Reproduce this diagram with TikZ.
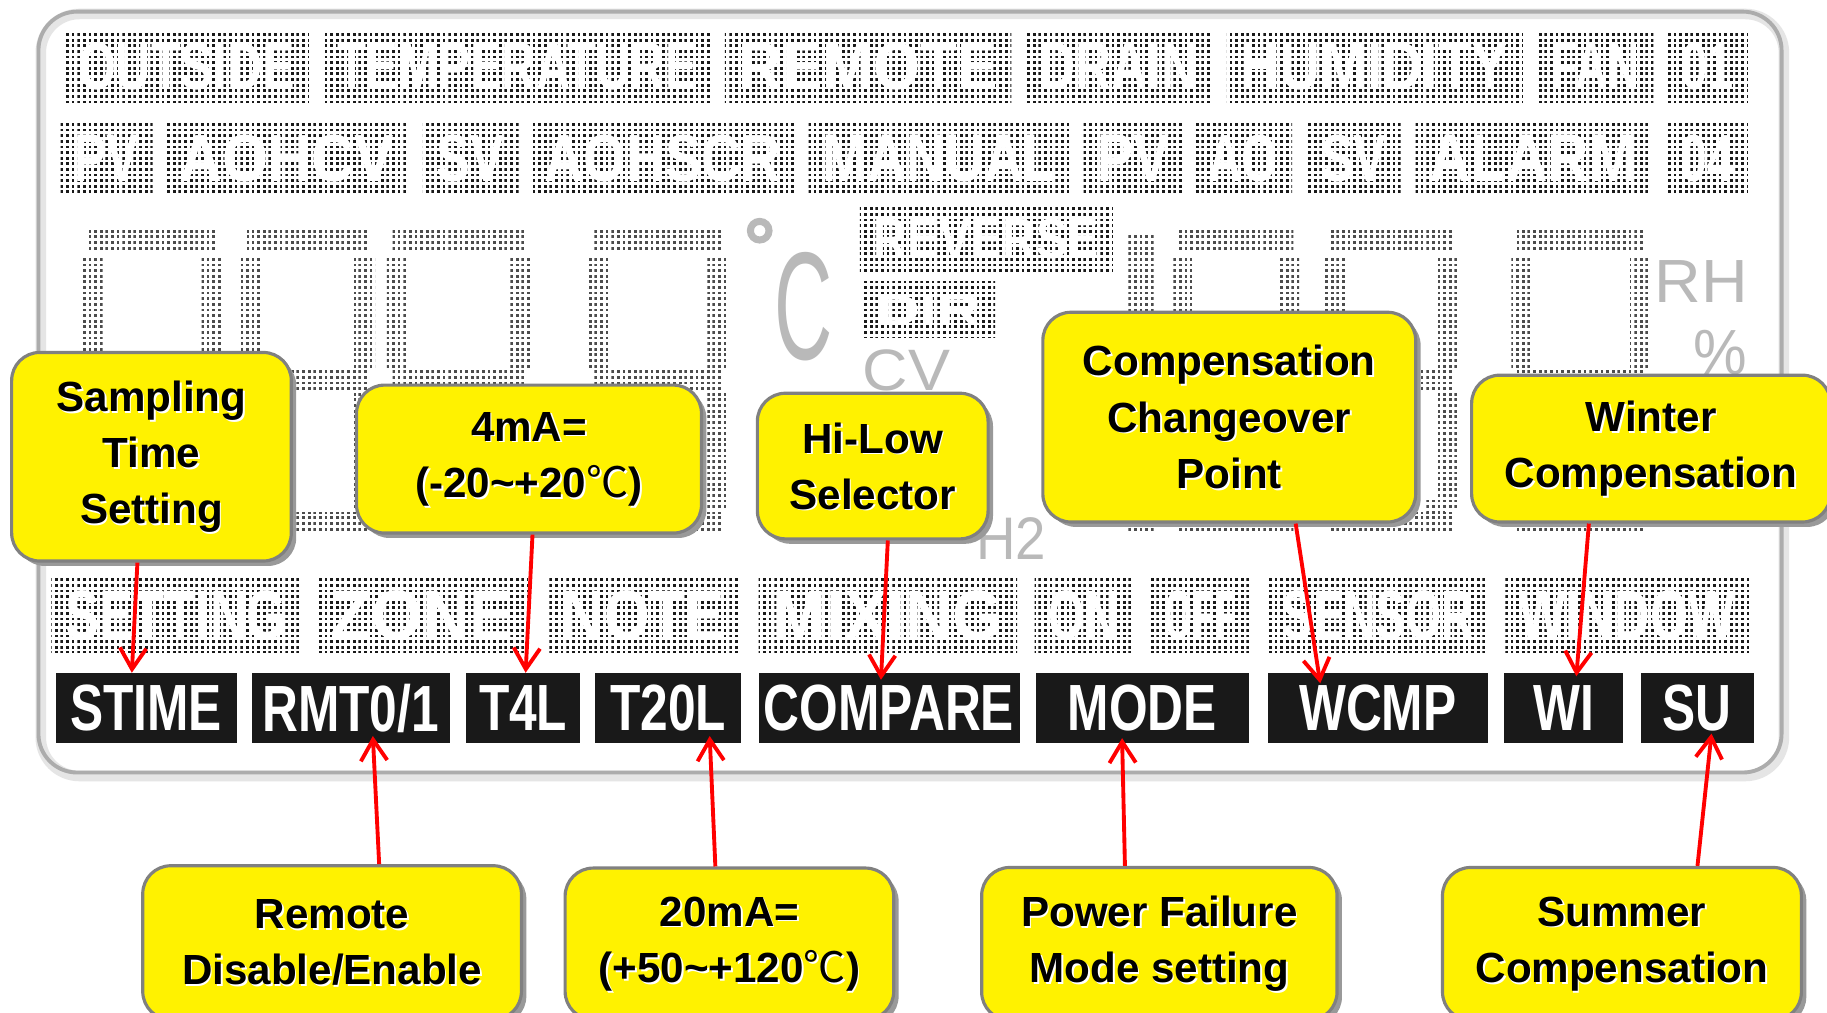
\documentclass[tikz,border=0pt]{standalone}
\usepackage{fontspec}
\usepackage{graphicx}
\setmainfont{Liberation Sans}
\newfontfamily\cjk{Noto Sans CJK SC}
\usetikzlibrary{positioning,shadows,patterns,arrows.meta}

\newlength\fu
\setlength\fu{0.011652cm}

% fine dot grid of the LCD glass
\pgfdeclarepatternformonly{lcd dots}{\pgfqpoint{-0.4pt}{-0.4pt}}{\pgfqpoint{1.2pt}{1.2pt}}{\pgfqpoint{1.6pt}{1.6pt}}{%
  \pgfpathrectangle{\pgfqpoint{-0.4pt}{-0.4pt}}{\pgfqpoint{0.8pt}{0.8pt}}\pgfusepath{fill}}

\newcommand\degC{{\cjk\mdseries ℃}}
\newcommand\tg[1]{\scalebox{0.76}[1]{#1}}

\tikzset{
  lcd/.style={pattern=lcd dots, pattern color=black!90},
  lcdseg/.style={pattern=lcd dots, pattern color=black!70},
  lcdglyph/.style={text=gray!55, inner sep=0pt},
  callout/.style={rectangle, rounded corners=8pt, fill=yellow, draw=gray, line width=0.9pt,
    drop shadow={shadow xshift=1.4pt, shadow yshift=-1.4pt, fill=gray!80, opacity=1}},
  calltext/.style={align=center, inner sep=0pt, font=\fontsize{12}{16}\selectfont\bfseries},
  tagbox/.style={fill=black!90, text=white, inner sep=0pt, minimum height=60\fu,
    font=\fontsize{18.6}{20}\selectfont\bfseries},
  redarrow/.style={draw=red, line width=1.1pt, -{Straight Barb[length=6pt,width=7.5pt]}},
}

% dotted LCD word: x1 y1 x2 y2 text
\newcommand\lcdword[5]{%
  \fill[lcd] (#1,#2) rectangle (#3,#4);
  \node[white, inner sep=0pt] at ({(#1+#3)/2},{(#2+#4)/2})
    {\resizebox{\dimexpr\fu*(#3-#1-24)\relax}{\dimexpr\fu*(#4-#2-22)\relax}{\bfseries #5}};}

% seven segment digit: left x, width
\newcommand\lcddigit[2]{%
  \fill[lcdseg] (#1+5,196) rectangle (#1+#2-5,214);
  \fill[lcdseg] (#1,219) rectangle (#1+18,315);
  \fill[lcdseg] (#1+#2-18,219) rectangle (#1+#2,315);
  \fill[lcdseg] (#1+5,318) rectangle (#1+#2-5,334);
  \fill[lcdseg] (#1,338) rectangle (#1+18,436);
  \fill[lcdseg] (#1+#2-18,338) rectangle (#1+#2,436);
  \fill[lcdseg] (#1+5,440) rectangle (#1+#2-5,457);}

% yellow callout: name, centre, width, height, text
\newcommand\yellowbox[5]{%
  \node[callout, minimum width=#3\fu, minimum height=#4\fu] (#1) at (#2) {};
  \node[calltext, text=white] at ([shift={(0.5pt,-0.5pt)}]#1.center) {#5};
  \node[calltext] at (#1.center) {#5};}

\begin{document}
\begin{tikzpicture}[x=0.011652cm, y=-0.011652cm]
\useasboundingbox (0,0) rectangle (1568,869);
\clip (0,0) rectangle (1568,869);
\fill[white] (0,0) rectangle (1568,869);

% display panel
\draw[gray!20, line width=3pt, rounded corners=11pt] (35,12) rectangle (1531,666);
\draw[gray!65, line width=1.1pt, rounded corners=11pt] (33,10) rectangle (1529,663);

% dotted words
\foreach \xa/\xb/\word in {55/265/OUTSIDE, 278/610/TEMPERATURE, 622/868/REMOTE, 880/1040/DRAIN,
  1053/1307/HUMIDITY, 1319/1419/FAN, 1431/1500/01}
  {\lcdword{\xa}{26}{\xb}{88}{\word}}
\foreach \xa/\xb/\word in {52/131/PV, 142/350/AOHCV, 363/445/SV, 455/682/AOHSCR, 694/919/MANUAL,
  930/1016/PV, 1025/1109/AO, 1122/1202/SV, 1215/1417/ALARM, 1430/1500/04}
  {\lcdword{\xa}{105}{\xb}{167}{\word}}
\foreach \xa/\xb/\word in {44/258/SETTING, 272/453/ZONE, 470/634/NOTE, 651/873/MIXING,
  888/972/ON, 987/1073/OFF, 1089/1277/SENSOR, 1292/1501/WINDOW}
  {\lcdword{\xa}{496}{\xb}{560}{\word}}
\lcdword{738}{177}{955}{233}{REVERSE}
\lcdword{740}{242}{854}{290}{DIR}

% big digits
\foreach \xa/\w in {70/121, 207/115, 332/124, 504/121, 1005/110, 1137/115, 1297/120}
  {\lcddigit{\xa}{\w}}
\fill[lcdseg] (968,200) rectangle (990,455);
\fill[lcdseg] (1222,428) rectangle (1240,446);
\draw[gray!55, line width=2pt] (652,198) circle [radius=8];
\node[lcdglyph] (cel) at (690,263) {\resizebox{50\fu}{92\fu}{C}};
\node[lcdglyph] (cv) at (778,318) {\resizebox{75\fu}{35\fu}{CV}};
\node[lcdglyph] (rh) at (1460,242) {\resizebox{80\fu}{36\fu}{RH}};
\node[lcdglyph] (pct) at (1476,303) {\resizebox{46\fu}{38\fu}{\%}};
\node[lcdglyph] (h2) at (868,462) {\resizebox{60\fu}{36\fu}{H2}};

% black function tags
\foreach \nm/\xc/\w/\word in {stime/125.5/155/STIME, rmt/301/170/{RMT0/1}, t4l/449/98/T4L,
  t20l/573.5/125/T20L, compare/763/224/COMPARE, mode/980.5/183/MODE, wcmp/1182.5/189/WCMP,
  wi/1342/102/WI, su/1456.5/97/SU}
  \node[tagbox, minimum width=\w\fu] (\nm) at (\xc,608) {\tg{\word}};

% callouts
\yellowbox{sample}{130,392}{240}{179}{Sampling\\Time\\Setting}
\yellowbox{fourma}{454,394}{296}{127}{4mA=\\(-20\textasciitilde+20\degC)}
\yellowbox{hilow}{749,400}{198}{125}{Hi-Low\\Selector}
\yellowbox{comp}{1055,358}{320}{180}{Compensation\\Changeover\\Point}
\yellowbox{winter}{1417,385}{308}{126}{Winter\\Compensation}
\yellowbox{remote}{285,809}{325}{132}{Remote\\Disable/Enable}
\yellowbox{twentyma}{626,810}{282}{130}{20mA=\\(+50\textasciitilde+120\degC)}
\yellowbox{power}{995,810}{305}{131}{Power Failure\\Mode setting}
\yellowbox{summer}{1392,810}{308}{131}{Summer\\Compensation}

% arrows
\draw[redarrow] ([xshift=-4pt]sample.south) -- ([xshift=-4.1pt]stime.north);
\draw[redarrow] ([xshift=1pt]fourma.south) -- ([xshift=0.7pt]t4l.north);
\draw[redarrow] ([xshift=4.3pt]hilow.south) -- ([xshift=-2.3pt,yshift=-2pt]compare.north);
\draw[redarrow] ([xshift=18.9pt]comp.south) -- ([xshift=-16.4pt,yshift=-3pt]wcmp.north);
\draw[redarrow] ([xshift=-17.7pt]winter.south) -- ([xshift=3.6pt,yshift=-1pt]wi.north);
\draw[redarrow] ([xshift=13.4pt]remote.north) -- ([xshift=6.3pt,yshift=2.3pt]rmt.south);
\draw[redarrow] ([xshift=-4pt]twentyma.north) -- ([xshift=11.8pt,yshift=2.3pt]t20l.south);
\draw[redarrow] ([xshift=-9.8pt]power.north) -- ([xshift=-5.8pt,yshift=1.7pt]mode.south);
\draw[redarrow] ([xshift=21.5pt]summer.north) -- ([xshift=4.1pt,yshift=3pt]su.south);
\end{tikzpicture}
\end{document}
